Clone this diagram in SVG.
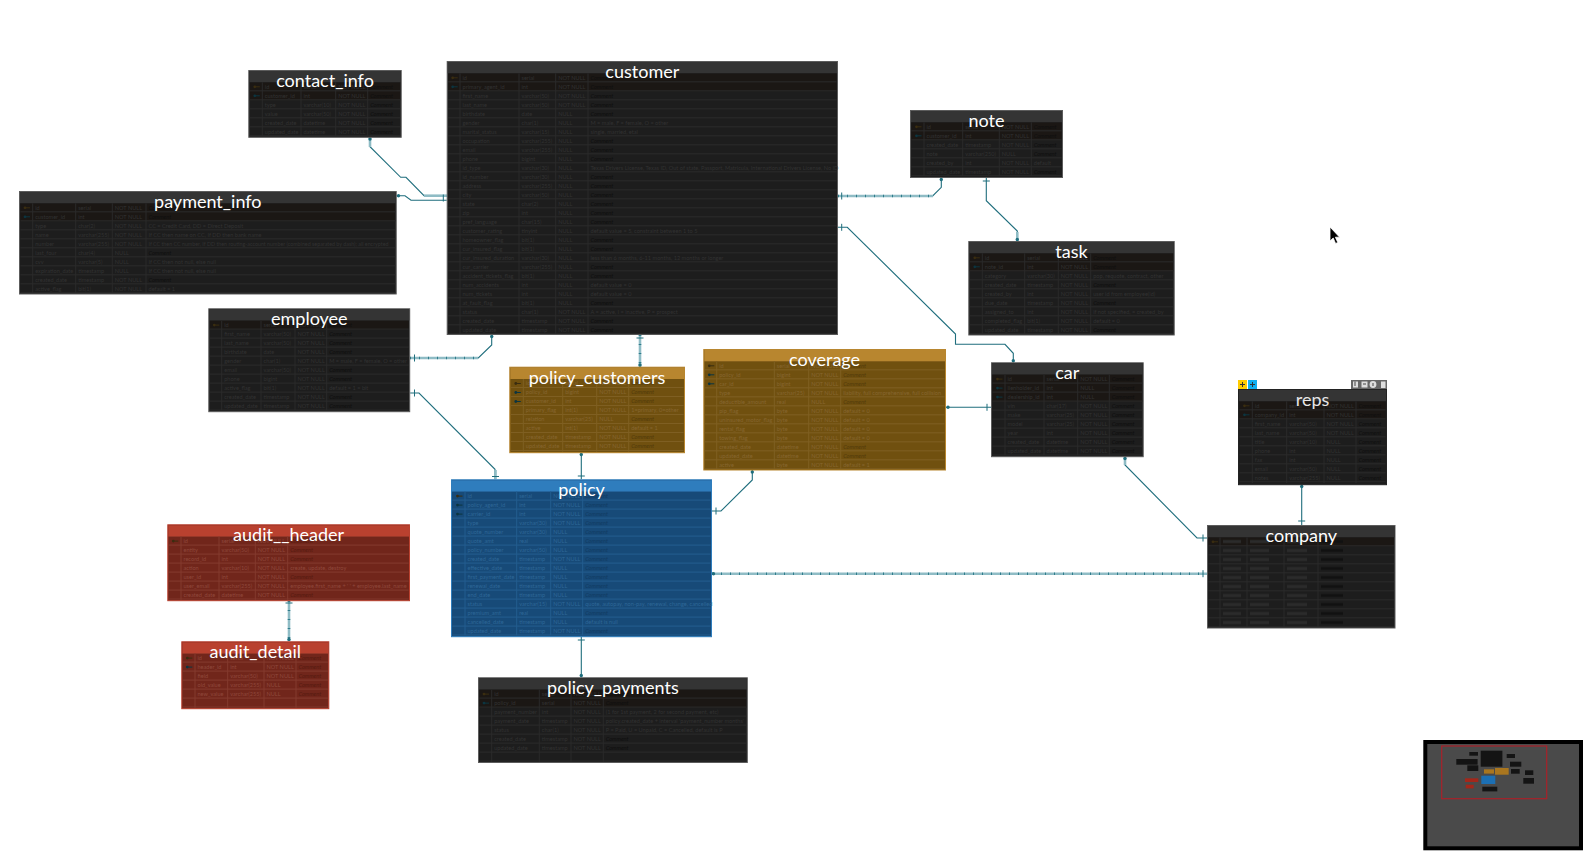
<svg xmlns="http://www.w3.org/2000/svg" width="1592" height="863" viewBox="0 0 1592 863">
<style>
text{font-family:Lato,"Open Sans","Liberation Sans",sans-serif}
.ti{font-size:18px;fill:#fff;text-anchor:middle}
.r{font-size:5.6px}
.k{font-style:italic}
.dark .bd{fill:#1d1d1d;stroke:#5c5c5c;stroke-width:1}
.dark .hd{fill:#343434}
.dark .v{stroke:#2a2a2a}
.dark .r{fill:#323232}
.dark .k{fill:#0e0e0e}
.dark .pk{fill:#1b1714}
.or .bd{fill:#70500f;stroke:#b8862f;stroke-width:1}
.or .hd{fill:#b8862f}
.or .v{stroke:#7f5f22}
.or .r{fill:#866630}
.or .k{fill:#513a0a}
.bl .bd{fill:#174a78;stroke:#2f7dbd;stroke-width:1}
.bl .hd{fill:#2f7dbd}
.bl .v{stroke:#235d8f}
.bl .r{fill:#2e6797}
.bl .k{fill:#113a62}
.re .bd{fill:#71261b;stroke:#b9412f;stroke-width:1}
.re .hd{fill:#b9412f}
.re .v{stroke:#843a2e}
.re .r{fill:#8f483b}
.re .k{fill:#551a10}
.v{fill:none;stroke-width:1}
.ln{fill:none;stroke:#1f6e7d;stroke-width:1.1}
.lt{fill:none;stroke:#8fbcc5;stroke-width:2.6}
.dt{fill:none;stroke:#2f7c8b;stroke-width:2.6;stroke-dasharray:1 8}
.e{fill:#1f6e7d}
.tk{stroke:#1f6e7d;stroke-width:1;fill:none}
.kp{fill:#3a2d10}
.kf{fill:#0c3540}
.mini{fill:#141414}
.ico{fill:#ddd}
</style>
<defs>
<pattern id="gd" width="40" height="9" patternUnits="userSpaceOnUse" y="12.3"><path d="M0 8.5H40" stroke="#2a2a2a" stroke-width="1"/></pattern>
<pattern id="go" width="40" height="9" patternUnits="userSpaceOnUse" y="12.3"><path d="M0 8.5H40" stroke="#7f5f22" stroke-width="1"/></pattern>
<pattern id="gb" width="40" height="9" patternUnits="userSpaceOnUse" y="12.3"><path d="M0 8.5H40" stroke="#235d8f" stroke-width="1"/></pattern>
<pattern id="gr" width="40" height="9" patternUnits="userSpaceOnUse" y="12.3"><path d="M0 8.5H40" stroke="#843a2e" stroke-width="1"/></pattern>
<pattern id="cb" width="188" height="9" patternUnits="userSpaceOnUse" y="12.3"><path d="M16 4.2H34M43 4.2H62M80 4.2H100" stroke="#2b2b2b" stroke-width="3"/><path d="M114 4.2H136" stroke="#111" stroke-width="3"/></pattern>
<g id="key"><circle cx="1.5" cy="0" r="1.4"/><rect x="2.5" y="-.5" width="4" height="1"/></g>
<circle id="o" r="1.7" class="e"/>
<path id="tv" d="M0-3.5V3.5" class="tk"/>
<path id="th" d="M-3.5 0H3.5" class="tk"/>
</defs>
<rect width="1592" height="863" fill="#fff"/>

<g id="connectors">
<path class="ln" d="M370 137.5V146.7L400.7 177.3H406L424 195.7H446.7"/>
<path class="ln" d="M396.7 195.7H405L411 200.3H446.7"/>
<path class="ln" d="M838 196H932.7L941.3 187.3V177.7"/>
<path class="ln" d="M986.3 177.7V200.7L1017.3 231V241"/>
<path class="ln" d="M838 227.3H847.3L955.5 334V344.3H1005L1013.3 353.3V362.3"/>
<path class="ln" d="M410.2 358H478.3L491.7 345V334.5"/>
<path class="ln" d="M410.2 393H419L495 469.3V479.3"/>
<path class="ln" d="M581.3 452.7V479.3"/>
<path class="ln" d="M752.3 470V480L721 511H712"/>
<path class="ln" d="M946 407.3H991"/>
<path class="ln" d="M1125 456.7V465L1197 538H1207"/>
<path class="ln" d="M1301.7 484.7V525"/>
<path class="ln" d="M581.3 636.7V677.3"/>
<path class="lt" d="M370 138V147"/><path class="lt" d="M424 195.7H447"/><path class="lt" d="M838 196H933"/><path class="lt" d="M640 335V367"/><path class="lt" d="M712 573.7H1207"/><path class="lt" d="M289 601V641"/><path class="lt" d="M410 358H478"/><path class="lt" d="M495.5 470V479"/><path class="lt" d="M1017.3 232V241"/><path class="lt" d="M1125 457V465"/>
<path class="dt" d="M838 196H933"/><path class="dt" d="M712 573.7H1207"/><path class="dt" d="M289 601V641"/><path class="dt" d="M410 358H478"/><path class="dt" d="M640 335V367"/>
<use href="#o" x="370" y="139"/><use href="#tv" x="443.3" y="198"/><use href="#o" x="398.5" y="195.7"/><use href="#tv" x="841.7" y="196"/><use href="#o" x="941.3" y="179.5"/><use href="#th" x="986.3" y="181"/><use href="#o" x="1017.3" y="239.5"/><use href="#tv" x="841.7" y="227.3"/><use href="#o" x="1013.3" y="360.8"/><use href="#tv" x="414.5" y="358"/><use href="#o" x="491.7" y="336.5"/><use href="#tv" x="414.5" y="393"/><use href="#th" x="495.5" y="476.5"/><use href="#th" x="640" y="338"/><use href="#o" x="640" y="365"/><use href="#o" x="581.3" y="454.5"/><use href="#th" x="581.3" y="476"/><use href="#o" x="752.3" y="472"/><use href="#tv" x="716" y="511"/><use href="#o" x="948" y="407.3"/><use href="#tv" x="987" y="407.3"/><use href="#o" x="1125" y="458.5"/><use href="#tv" x="1203" y="538"/><use href="#o" x="1301.7" y="486.5"/><use href="#th" x="1301.7" y="521"/><use href="#o" x="713.5" y="573.7"/><use href="#tv" x="1203" y="573.7"/><use href="#th" x="581.3" y="640"/><use href="#o" x="581.3" y="675.5"/><use href="#th" x="289" y="603"/><use href="#o" x="289" y="639.5"/>
</g>

<g id="contact_info" class="dark" transform="translate(248.3 70)">
<rect class="bd" x=".5" y=".5" width="152.4" height="66.8"/><rect class="hd" x="1" y="1" width="151.4" height="11.3"/>
<rect class="pk" x="1.5" y="12.3" width="150.4" height="18"/><rect x="1.5" y="12.3" width="150.4" height="54" fill="url(#gd)"/>
<path class="v" d="M14 12.3V66M52.7 12.3V66M87.4 12.3V66M119.4 12.3V66"/>
<use class="kp" href="#key" x="5" y="16.8"/><use class="kf" href="#key" x="5" y="25.8"/>
<text class="r" y="18.8"><tspan x="16.5">id</tspan><tspan x="55.2">serial</tspan><tspan x="89.9">NOT NULL</tspan><tspan class="k" x="121.9">Comment</tspan></text>
<text class="r" y="27.8"><tspan x="16.5">customer_id</tspan><tspan x="55.2">int</tspan><tspan x="89.9">NOT NULL</tspan><tspan class="k" x="121.9">Comment</tspan></text>
<text class="r" y="36.8"><tspan x="16.5">type</tspan><tspan x="55.2">varchar(10)</tspan><tspan x="89.9">NOT NULL</tspan><tspan class="k" x="121.9">Comment</tspan></text>
<text class="r" y="45.8"><tspan x="16.5">value</tspan><tspan x="55.2">varchar(50)</tspan><tspan x="89.9">NOT NULL</tspan><tspan class="k" x="121.9">Comment</tspan></text>
<text class="r" y="54.8"><tspan x="16.5">created_date</tspan><tspan x="55.2">datetime</tspan><tspan x="89.9">NOT NULL</tspan><tspan class="k" x="121.9">Comment</tspan></text>
<text class="r" y="63.8"><tspan x="16.5">updated_date</tspan><tspan x="55.2">datetime</tspan><tspan x="89.9">NOT NULL</tspan><tspan class="k" x="121.9">Comment</tspan></text>
<text class="ti" x="76.7" y="17">contact_info</text>
</g>

<g id="customer" class="dark" transform="translate(446.7 61)">
<rect class="bd" x=".5" y=".5" width="390.3" height="273"/><rect class="hd" x="1" y="1" width="389.3" height="11.3"/>
<rect class="pk" x="1.5" y="12.3" width="388.3" height="18"/><rect x="1.5" y="12.3" width="388.3" height="261" fill="url(#gd)"/>
<path class="v" d="M13.3 12.3V273M72.3 12.3V273M109 12.3V273M141.3 12.3V273"/>
<use class="kp" href="#key" x="4.5" y="16.8"/><use class="kf" href="#key" x="4.5" y="25.8"/>
<g>
<text class="r" y="18.8"><tspan x="15.8">id</tspan><tspan x="74.8">serial</tspan><tspan x="111.5">NOT NULL</tspan><tspan class="k" x="143.8">Comment</tspan></text>
<text class="r" y="27.8"><tspan x="15.8">primary_agent_id</tspan><tspan x="74.8">int</tspan><tspan x="111.5">NOT NULL</tspan><tspan class="k" x="143.8">Comment</tspan></text>
<text class="r" y="36.8"><tspan x="15.8">first_name</tspan><tspan x="74.8">varchar(50)</tspan><tspan x="111.5">NOT NULL</tspan><tspan class="k" x="143.8">Comment</tspan></text>
<text class="r" y="45.8"><tspan x="15.8">last_name</tspan><tspan x="74.8">varchar(50)</tspan><tspan x="111.5">NOT NULL</tspan><tspan class="k" x="143.8">Comment</tspan></text>
<text class="r" y="54.8"><tspan x="15.8">birthdate</tspan><tspan x="74.8">date</tspan><tspan x="111.5">NULL</tspan><tspan class="k" x="143.8">Comment</tspan></text>
<text class="r" y="63.8"><tspan x="15.8">gender</tspan><tspan x="74.8">char(1)</tspan><tspan x="111.5">NULL</tspan><tspan x="143.8">M = male, F = female, O = other</tspan></text>
<text class="r" y="72.8"><tspan x="15.8">marital_status</tspan><tspan x="74.8">varchar(15)</tspan><tspan x="111.5">NULL</tspan><tspan x="143.8">single, married, etal</tspan></text>
<text class="r" y="81.8"><tspan x="15.8">occupation</tspan><tspan x="74.8">varchar(255)</tspan><tspan x="111.5">NULL</tspan><tspan class="k" x="143.8">Comment</tspan></text>
<text class="r" y="90.8"><tspan x="15.8">email</tspan><tspan x="74.8">varchar(255)</tspan><tspan x="111.5">NULL</tspan><tspan class="k" x="143.8">Comment</tspan></text>
<text class="r" y="99.8"><tspan x="15.8">phone</tspan><tspan x="74.8">bigint</tspan><tspan x="111.5">NULL</tspan><tspan class="k" x="143.8">Comment</tspan></text>
<text class="r" y="108.8"><tspan x="15.8">id_type</tspan><tspan x="74.8">varchar(30)</tspan><tspan x="111.5">NULL</tspan><tspan x="143.8">Texas Drivers License, Texas ID, Out of state, Passport, Matricula, International Drivers License, No ID</tspan></text>
<text class="r" y="117.8"><tspan x="15.8">id_number</tspan><tspan x="74.8">varchar(30)</tspan><tspan x="111.5">NULL</tspan><tspan class="k" x="143.8">Comment</tspan></text>
<text class="r" y="126.8"><tspan x="15.8">address</tspan><tspan x="74.8">varchar(255)</tspan><tspan x="111.5">NULL</tspan><tspan class="k" x="143.8">Comment</tspan></text>
<text class="r" y="135.8"><tspan x="15.8">city</tspan><tspan x="74.8">varchar(50)</tspan><tspan x="111.5">NULL</tspan><tspan class="k" x="143.8">Comment</tspan></text>
<text class="r" y="144.8"><tspan x="15.8">state</tspan><tspan x="74.8">char(2)</tspan><tspan x="111.5">NULL</tspan><tspan class="k" x="143.8">Comment</tspan></text>
<text class="r" y="153.8"><tspan x="15.8">zip</tspan><tspan x="74.8">int</tspan><tspan x="111.5">NULL</tspan><tspan class="k" x="143.8">Comment</tspan></text>
<text class="r" y="162.8"><tspan x="15.8">pref_language</tspan><tspan x="74.8">char(15)</tspan><tspan x="111.5">NULL</tspan><tspan class="k" x="143.8">Comment</tspan></text>
<text class="r" y="171.8"><tspan x="15.8">customer_rating</tspan><tspan x="74.8">tinyint</tspan><tspan x="111.5">NULL</tspan><tspan x="143.8">default value = 5, constraint between 1 to 5</tspan></text>
<text class="r" y="180.8"><tspan x="15.8">homeowner_flag</tspan><tspan x="74.8">bit(1)</tspan><tspan x="111.5">NULL</tspan><tspan class="k" x="143.8">Comment</tspan></text>
<text class="r" y="189.8"><tspan x="15.8">cur_insured_flag</tspan><tspan x="74.8">bit(1)</tspan><tspan x="111.5">NULL</tspan><tspan class="k" x="143.8">Comment</tspan></text>
<text class="r" y="198.8"><tspan x="15.8">cur_insured_duration</tspan><tspan x="74.8">varchar(30)</tspan><tspan x="111.5">NULL</tspan><tspan x="143.8">less than 6 months, 6-11 months, 12 months or longer</tspan></text>
<text class="r" y="207.8"><tspan x="15.8">cur_carrier</tspan><tspan x="74.8">varchar(255)</tspan><tspan x="111.5">NULL</tspan><tspan class="k" x="143.8">Comment</tspan></text>
<text class="r" y="216.8"><tspan x="15.8">accident_tickets_flag</tspan><tspan x="74.8">bit(1)</tspan><tspan x="111.5">NULL</tspan><tspan class="k" x="143.8">Comment</tspan></text>
<text class="r" y="225.8"><tspan x="15.8">num_accidents</tspan><tspan x="74.8">int</tspan><tspan x="111.5">NULL</tspan><tspan x="143.8">default value = 0</tspan></text>
<text class="r" y="234.8"><tspan x="15.8">num_tickets</tspan><tspan x="74.8">int</tspan><tspan x="111.5">NULL</tspan><tspan x="143.8">default value = 0</tspan></text>
<text class="r" y="243.8"><tspan x="15.8">at_fault_flag</tspan><tspan x="74.8">bit(1)</tspan><tspan x="111.5">NULL</tspan><tspan class="k" x="143.8">Comment</tspan></text>
<text class="r" y="252.8"><tspan x="15.8">status</tspan><tspan x="74.8">char(1)</tspan><tspan x="111.5">NOT NULL</tspan><tspan x="143.8">A = active, I = inactive, P = prospect</tspan></text>
<text class="r" y="261.8"><tspan x="15.8">created_date</tspan><tspan x="74.8">timestamp</tspan><tspan x="111.5">NOT NULL</tspan><tspan class="k" x="143.8">Comment</tspan></text>
<text class="r" y="270.8"><tspan x="15.8">updated_date</tspan><tspan x="74.8">timestamp</tspan><tspan x="111.5">NOT NULL</tspan><tspan class="k" x="143.8">Comment</tspan></text>
</g>
<text class="ti" x="195.6" y="17">customer</text>
</g>

<g id="note" class="dark" transform="translate(910 110)">
<rect class="bd" x=".5" y=".5" width="152" height="67"/><rect class="hd" x="1" y="1" width="151" height="11.3"/>
<rect class="pk" x="1.5" y="12.3" width="150" height="18"/><rect x="1.5" y="12.3" width="150" height="54" fill="url(#gd)"/>
<path class="v" d="M14 12.3V66M52.7 12.3V66M89.3 12.3V66M121.3 12.3V66"/>
<use class="kp" href="#key" x="5" y="16.8"/><use class="kf" href="#key" x="5" y="25.8"/>
<text class="r" y="18.8"><tspan x="16.5">id</tspan><tspan x="55.2">serial</tspan><tspan x="91.8">NOT NULL</tspan><tspan class="k" x="123.8">Comment</tspan></text>
<text class="r" y="27.8"><tspan x="16.5">customer_id</tspan><tspan x="55.2">int</tspan><tspan x="91.8">NOT NULL</tspan><tspan class="k" x="123.8">Comment</tspan></text>
<text class="r" y="36.8"><tspan x="16.5">created_date</tspan><tspan x="55.2">timestamp</tspan><tspan x="91.8">NOT NULL</tspan><tspan class="k" x="123.8">Comment</tspan></text>
<text class="r" y="45.8"><tspan x="16.5">note</tspan><tspan x="55.2">varchar(250)</tspan><tspan x="91.8">NULL</tspan><tspan class="k" x="123.8">Comment</tspan></text>
<text class="r" y="54.8"><tspan x="16.5">created_by</tspan><tspan x="55.2">int</tspan><tspan x="91.8">NOT NULL</tspan><tspan x="123.8">default</tspan></text>
<text class="r" y="63.8"><tspan x="16.5">updated_date</tspan><tspan x="55.2">timestamp</tspan><tspan x="91.8">NOT NULL</tspan><tspan class="k" x="123.8">Comment</tspan></text>
<text class="ti" x="76.5" y="17">note</text>
</g>

<g id="task" class="dark" transform="translate(968.3 241)">
<rect class="bd" x=".5" y=".5" width="205.4" height="93.5"/><rect class="hd" x="1" y="1" width="204.4" height="11.3"/>
<rect class="pk" x="1.5" y="12.3" width="203.4" height="18"/><rect x="1.5" y="12.3" width="203.4" height="81" fill="url(#gd)"/>
<path class="v" d="M14 12.3V93M56.4 12.3V93M90 12.3V93M122.4 12.3V93"/>
<use class="kp" href="#key" x="5" y="16.8"/><use class="kf" href="#key" x="5" y="25.8"/>
<text class="r" y="18.8"><tspan x="16.5">id</tspan><tspan x="58.9">serial</tspan><tspan x="92.5">NOT NULL</tspan><tspan class="k" x="124.9">Comment</tspan></text>
<text class="r" y="27.8"><tspan x="16.5">note_id</tspan><tspan x="58.9">int</tspan><tspan x="92.5">NOT NULL</tspan><tspan class="k" x="124.9">Comment</tspan></text>
<text class="r" y="36.8"><tspan x="16.5">category</tspan><tspan x="58.9">varchar(30)</tspan><tspan x="92.5">NOT NULL</tspan><tspan x="124.9">pop, requote, contract, other</tspan></text>
<text class="r" y="45.8"><tspan x="16.5">created_date</tspan><tspan x="58.9">timestamp</tspan><tspan x="92.5">NOT NULL</tspan><tspan class="k" x="124.9">Comment</tspan></text>
<text class="r" y="54.8"><tspan x="16.5">created_by</tspan><tspan x="58.9">int</tspan><tspan x="92.5">NOT NULL</tspan><tspan x="124.9">user id from employee(id)</tspan></text>
<text class="r" y="63.8"><tspan x="16.5">due_date</tspan><tspan x="58.9">timestamp</tspan><tspan x="92.5">NOT NULL</tspan><tspan class="k" x="124.9">Comment</tspan></text>
<text class="r" y="72.8"><tspan x="16.5">assigned_to</tspan><tspan x="58.9">int</tspan><tspan x="92.5">NOT NULL</tspan><tspan x="124.9">if not specified, = created_by</tspan></text>
<text class="r" y="81.8"><tspan x="16.5">completed_flag</tspan><tspan x="58.9">bit(1)</tspan><tspan x="92.5">NOT NULL</tspan><tspan x="124.9">default = 0</tspan></text>
<text class="r" y="90.8"><tspan x="16.5">updated_date</tspan><tspan x="58.9">timestamp</tspan><tspan x="92.5">NOT NULL</tspan><tspan class="k" x="124.9">Comment</tspan></text>
<text class="ti" x="103.2" y="17">task</text>
</g>

<g id="payment_info" class="dark" transform="translate(19 191)">
<rect class="bd" x=".5" y=".5" width="376.7" height="102.5"/><rect class="hd" x="1" y="1" width="375.7" height="11.3"/>
<rect class="pk" x="1.5" y="12.3" width="374.7" height="18"/><rect x="1.5" y="12.3" width="374.7" height="90" fill="url(#gd)"/>
<path class="v" d="M13.7 12.3V102M56.7 12.3V102M93.3 12.3V102M127 12.3V102"/>
<use class="kp" href="#key" x="4.5" y="16.8"/><use class="kf" href="#key" x="4.5" y="25.8"/>
<text class="r" y="18.8"><tspan x="16.2">id</tspan><tspan x="59.2">serial</tspan><tspan x="95.8">NOT NULL</tspan><tspan class="k" x="129.5">Comment</tspan></text>
<text class="r" y="27.8"><tspan x="16.2">customer_id</tspan><tspan x="59.2">int</tspan><tspan x="95.8">NOT NULL</tspan><tspan class="k" x="129.5">Comment</tspan></text>
<text class="r" y="36.8"><tspan x="16.2">type</tspan><tspan x="59.2">char(2)</tspan><tspan x="95.8">NOT NULL</tspan><tspan x="129.5">CC = Credit Card, DD = Direct Deposit</tspan></text>
<text class="r" y="45.8"><tspan x="16.2">name</tspan><tspan x="59.2">varchar(255)</tspan><tspan x="95.8">NOT NULL</tspan><tspan x="129.5">If CC then name on CC, If DD then bank name</tspan></text>
<text class="r" y="54.8"><tspan x="16.2">number</tspan><tspan x="59.2">varchar(255)</tspan><tspan x="95.8">NOT NULL</tspan><tspan x="129.5" textLength="240" lengthAdjust="spacingAndGlyphs">If CC then CC number, If DD then routing-account number (combined separated by dash); all encrypted</tspan></text>
<text class="r" y="63.8"><tspan x="16.2">last_four</tspan><tspan x="59.2">char(4)</tspan><tspan x="95.8">NULL</tspan><tspan class="k" x="129.5">Comment</tspan></text>
<text class="r" y="72.8"><tspan x="16.2">cvv</tspan><tspan x="59.2">varchar(5)</tspan><tspan x="95.8">NULL</tspan><tspan x="129.5">If CC then not null, else null</tspan></text>
<text class="r" y="81.8"><tspan x="16.2">expiration_date</tspan><tspan x="59.2">timestamp</tspan><tspan x="95.8">NULL</tspan><tspan x="129.5">If CC then not null, else null</tspan></text>
<text class="r" y="90.8"><tspan x="16.2">created_date</tspan><tspan x="59.2">timestamp</tspan><tspan x="95.8">NOT NULL</tspan><tspan class="k" x="129.5">Comment</tspan></text>
<text class="r" y="99.8"><tspan x="16.2">active_flag</tspan><tspan x="59.2">bit(1)</tspan><tspan x="95.8">NOT NULL</tspan><tspan x="129.5">default = 1</tspan></text>
<text class="ti" x="188.8" y="17">payment_info</text>
</g>

<g id="employee" class="dark" transform="translate(208.3 308.3)">
<rect class="bd" x=".5" y=".5" width="200.9" height="102.9"/><rect class="hd" x="1" y="1" width="199.9" height="11.3"/>
<rect class="pk" x="1.5" y="12.3" width="198.9" height="9"/><rect x="1.5" y="12.3" width="198.9" height="90" fill="url(#gd)"/>
<path class="v" d="M13.4 12.3V102M52.7 12.3V102M86.7 12.3V102M118.4 12.3V102"/>
<use class="kp" href="#key" x="4.5" y="16.8"/>
<text class="r" y="18.8"><tspan x="15.9">id</tspan><tspan x="55.2">serial</tspan><tspan x="89.2">NOT NULL</tspan><tspan class="k" x="120.9">Comment</tspan></text>
<text class="r" y="27.8"><tspan x="15.9">first_name</tspan><tspan x="55.2">varchar(50)</tspan><tspan x="89.2">NOT NULL</tspan><tspan class="k" x="120.9">Comment</tspan></text>
<text class="r" y="36.8"><tspan x="15.9">last_name</tspan><tspan x="55.2">varchar(50)</tspan><tspan x="89.2">NOT NULL</tspan><tspan class="k" x="120.9">Comment</tspan></text>
<text class="r" y="45.8"><tspan x="15.9">birthdate</tspan><tspan x="55.2">date</tspan><tspan x="89.2">NOT NULL</tspan><tspan class="k" x="120.9">Comment</tspan></text>
<text class="r" y="54.8"><tspan x="15.9">gender</tspan><tspan x="55.2">char(1)</tspan><tspan x="89.2">NOT NULL</tspan><tspan x="120.9">M = male, F = female, O = other</tspan></text>
<text class="r" y="63.8"><tspan x="15.9">email</tspan><tspan x="55.2">varchar(50)</tspan><tspan x="89.2">NOT NULL</tspan><tspan class="k" x="120.9">Comment</tspan></text>
<text class="r" y="72.8"><tspan x="15.9">phone</tspan><tspan x="55.2">bigint</tspan><tspan x="89.2">NOT NULL</tspan><tspan class="k" x="120.9">Comment</tspan></text>
<text class="r" y="81.8"><tspan x="15.9">active_flag</tspan><tspan x="55.2">bit(1)</tspan><tspan x="89.2">NOT NULL</tspan><tspan x="120.9">default = 1 = bit</tspan></text>
<text class="r" y="90.8"><tspan x="15.9">created_date</tspan><tspan x="55.2">timestamp</tspan><tspan x="89.2">NOT NULL</tspan><tspan class="k" x="120.9">Comment</tspan></text>
<text class="r" y="99.8"><tspan x="15.9">updated_date</tspan><tspan x="55.2">timestamp</tspan><tspan x="89.2">NOT NULL</tspan><tspan class="k" x="120.9">Comment</tspan></text>
<text class="ti" x="101" y="17">employee</text>
</g>

<g id="policy_customers" class="or" transform="translate(509.3 366.7)">
<rect class="bd" x=".5" y=".5" width="174.7" height="85.5"/><rect class="hd" x="1" y="1" width="173.7" height="11.3"/>
<rect x="1.5" y="12.3" width="172.7" height="72" fill="url(#go)"/>
<path class="v" d="M14 12.3V85M53.4 12.3V85M87.4 12.3V85M119.4 12.3V85"/>
<use class="kp" href="#key" x="5" y="16.8"/><use class="kf" href="#key" x="5" y="25.8"/><use class="kf" href="#key" x="5" y="34.8"/>
<text class="r" y="18.8"><tspan x="16.5">id</tspan><tspan x="55.9">serial</tspan><tspan x="89.9">NOT NULL</tspan><tspan class="k" x="121.9">Comment</tspan></text>
<text class="r" y="27.8"><tspan x="16.5">policy_id</tspan><tspan x="55.9">bigint</tspan><tspan x="89.9">NOT NULL</tspan><tspan class="k" x="121.9">Comment</tspan></text>
<text class="r" y="36.8"><tspan x="16.5">customer_id</tspan><tspan x="55.9">int</tspan><tspan x="89.9">NOT NULL</tspan><tspan class="k" x="121.9">Comment</tspan></text>
<text class="r" y="45.8"><tspan x="16.5">primary_flag</tspan><tspan x="55.9">int(1)</tspan><tspan x="89.9">NOT NULL</tspan><tspan x="121.9">1=primary, 0=other</tspan></text>
<text class="r" y="54.8"><tspan x="16.5">relation</tspan><tspan x="55.9">varchar(25)</tspan><tspan x="89.9">NULL</tspan><tspan class="k" x="121.9">Comment</tspan></text>
<text class="r" y="63.8"><tspan x="16.5">active</tspan><tspan x="55.9">int(1)</tspan><tspan x="89.9">NOT NULL</tspan><tspan x="121.9">default = 1</tspan></text>
<text class="r" y="72.8"><tspan x="16.5">created_date</tspan><tspan x="55.9">timestamp</tspan><tspan x="89.9">NOT NULL</tspan><tspan class="k" x="121.9">Comment</tspan></text>
<text class="r" y="81.8"><tspan x="16.5">updated_date</tspan><tspan x="55.9">timestamp</tspan><tspan x="89.9">NOT NULL</tspan><tspan class="k" x="121.9">Comment</tspan></text>
<text class="ti" x="87.8" y="17.5">policy_customers</text>
</g>

<g id="coverage" class="or" transform="translate(703.3 349)">
<rect class="bd" x=".5" y=".5" width="241.7" height="120.5"/><rect class="hd" x="1" y="1" width="240.7" height="11.3"/>
<rect x="1.5" y="12.3" width="239.7" height="108" fill="url(#go)"/>
<path class="v" d="M13.4 12.3V120M71 12.3V120M105.4 12.3V120M137.4 12.3V120"/>
<use class="kp" href="#key" x="4.5" y="16.8"/><use class="kf" href="#key" x="4.5" y="25.8"/><use class="kf" href="#key" x="4.5" y="34.8"/>
<text class="r" y="18.8"><tspan x="15.9">id</tspan><tspan x="73.5">serial</tspan><tspan x="107.9">NOT NULL</tspan><tspan class="k" x="139.9">Comment</tspan></text>
<text class="r" y="27.8"><tspan x="15.9">policy_id</tspan><tspan x="73.5">bigint</tspan><tspan x="107.9">NOT NULL</tspan><tspan class="k" x="139.9">Comment</tspan></text>
<text class="r" y="36.8"><tspan x="15.9">car_id</tspan><tspan x="73.5">bigint</tspan><tspan x="107.9">NOT NULL</tspan><tspan class="k" x="139.9">Comment</tspan></text>
<text class="r" y="45.8"><tspan x="15.9">type</tspan><tspan x="73.5">varchar(25)</tspan><tspan x="107.9">NOT NULL</tspan><tspan x="139.9">liability, full comprehensive, full collision</tspan></text>
<text class="r" y="54.8"><tspan x="15.9">deductible_amount</tspan><tspan x="73.5">real</tspan><tspan x="107.9">NULL</tspan><tspan class="k" x="139.9">Comment</tspan></text>
<text class="r" y="63.8"><tspan x="15.9">pip_flag</tspan><tspan x="73.5">byte</tspan><tspan x="107.9">NOT NULL</tspan><tspan x="139.9">default = 0</tspan></text>
<text class="r" y="72.8"><tspan x="15.9">uninsured_motor_flag</tspan><tspan x="73.5">byte</tspan><tspan x="107.9">NOT NULL</tspan><tspan x="139.9">default = 0</tspan></text>
<text class="r" y="81.8"><tspan x="15.9">rental_flag</tspan><tspan x="73.5">byte</tspan><tspan x="107.9">NOT NULL</tspan><tspan x="139.9">default = 0</tspan></text>
<text class="r" y="90.8"><tspan x="15.9">towing_flag</tspan><tspan x="73.5">byte</tspan><tspan x="107.9">NOT NULL</tspan><tspan x="139.9">default = 0</tspan></text>
<text class="r" y="99.8"><tspan x="15.9">created_date</tspan><tspan x="73.5">datetime</tspan><tspan x="107.9">NOT NULL</tspan><tspan class="k" x="139.9">Comment</tspan></text>
<text class="r" y="108.8"><tspan x="15.9">updated_date</tspan><tspan x="73.5">datetime</tspan><tspan x="107.9">NOT NULL</tspan><tspan class="k" x="139.9">Comment</tspan></text>
<text class="r" y="117.8"><tspan x="15.9">active</tspan><tspan x="73.5">byte</tspan><tspan x="107.9">NOT NULL</tspan><tspan x="139.9">default = 1</tspan></text>
<text class="ti" x="121.3" y="17">coverage</text>
</g>

<g id="car" class="dark" transform="translate(991 362.3)">
<rect class="bd" x=".5" y=".5" width="151.7" height="93.9"/><rect class="hd" x="1" y="1" width="150.7" height="11.3"/>
<rect class="pk" x="1.5" y="12.3" width="149.7" height="27"/><rect x="1.5" y="12.3" width="149.7" height="81" fill="url(#gd)"/>
<path class="v" d="M14 12.3V93M53 12.3V93M86.7 12.3V93M118.3 12.3V93"/>
<use class="kp" href="#key" x="5" y="16.8"/><use class="kf" href="#key" x="5" y="25.8"/><use class="kf" href="#key" x="5" y="34.8"/>
<text class="r" y="18.8"><tspan x="16.5">id</tspan><tspan x="55.5">serial</tspan><tspan x="89.2">NOT NULL</tspan><tspan class="k" x="120.8">Comment</tspan></text>
<text class="r" y="27.8"><tspan x="16.5">lienholder_id</tspan><tspan x="55.5">int</tspan><tspan x="89.2">NULL</tspan><tspan class="k" x="120.8">Comment</tspan></text>
<text class="r" y="36.8"><tspan x="16.5">dealership_id</tspan><tspan x="55.5">int</tspan><tspan x="89.2">NULL</tspan><tspan class="k" x="120.8">Comment</tspan></text>
<text class="r" y="45.8"><tspan x="16.5">vin</tspan><tspan x="55.5">char(17)</tspan><tspan x="89.2">NOT NULL</tspan><tspan class="k" x="120.8">Comment</tspan></text>
<text class="r" y="54.8"><tspan x="16.5">make</tspan><tspan x="55.5">varchar(25)</tspan><tspan x="89.2">NOT NULL</tspan><tspan class="k" x="120.8">Comment</tspan></text>
<text class="r" y="63.8"><tspan x="16.5">model</tspan><tspan x="55.5">varchar(25)</tspan><tspan x="89.2">NOT NULL</tspan><tspan class="k" x="120.8">Comment</tspan></text>
<text class="r" y="72.8"><tspan x="16.5">year</tspan><tspan x="55.5">int</tspan><tspan x="89.2">NOT NULL</tspan><tspan class="k" x="120.8">Comment</tspan></text>
<text class="r" y="81.8"><tspan x="16.5">created_date</tspan><tspan x="55.5">datetime</tspan><tspan x="89.2">NOT NULL</tspan><tspan class="k" x="120.8">Comment</tspan></text>
<text class="r" y="90.8"><tspan x="16.5">updated_date</tspan><tspan x="55.5">datetime</tspan><tspan x="89.2">NOT NULL</tspan><tspan class="k" x="120.8">Comment</tspan></text>
<text class="ti" x="76.3" y="17">car</text>
</g>

<g id="policy" class="bl" transform="translate(451 479.3)">
<rect class="bd" x=".5" y=".5" width="260" height="156.9"/><rect class="hd" x="1" y="1" width="259" height="11.3"/>
<rect x="1.5" y="12.3" width="258" height="144" fill="url(#gb)"/>
<path class="v" d="M14 12.3V156M65.7 12.3V156M99.7 12.3V156M131.7 12.3V156"/>
<use class="kp" href="#key" x="5" y="16.8"/><use class="kf" href="#key" x="5" y="25.8"/><use class="kf" href="#key" x="5" y="34.8"/>
<text class="r" y="18.8"><tspan x="16.5">id</tspan><tspan x="68.2">serial</tspan><tspan x="102.2">NOT NULL</tspan><tspan class="k" x="134.2">Comment</tspan></text>
<text class="r" y="27.8"><tspan x="16.5">policy_agent_id</tspan><tspan x="68.2">int</tspan><tspan x="102.2">NOT NULL</tspan><tspan class="k" x="134.2">Comment</tspan></text>
<text class="r" y="36.8"><tspan x="16.5">carrier_id</tspan><tspan x="68.2">int</tspan><tspan x="102.2">NOT NULL</tspan><tspan class="k" x="134.2">Comment</tspan></text>
<text class="r" y="45.8"><tspan x="16.5">type</tspan><tspan x="68.2">varchar(30)</tspan><tspan x="102.2">NOT NULL</tspan><tspan class="k" x="134.2">Comment</tspan></text>
<text class="r" y="54.8"><tspan x="16.5">quote_number</tspan><tspan x="68.2">varchar(30)</tspan><tspan x="102.2">NULL</tspan><tspan class="k" x="134.2">Comment</tspan></text>
<text class="r" y="63.8"><tspan x="16.5">quote_amt</tspan><tspan x="68.2">real</tspan><tspan x="102.2">NULL</tspan><tspan class="k" x="134.2">Comment</tspan></text>
<text class="r" y="72.8"><tspan x="16.5">policy_number</tspan><tspan x="68.2">varchar(50)</tspan><tspan x="102.2">NULL</tspan><tspan class="k" x="134.2">Comment</tspan></text>
<text class="r" y="81.8"><tspan x="16.5">created_date</tspan><tspan x="68.2">timestamp</tspan><tspan x="102.2">NOT NULL</tspan><tspan class="k" x="134.2">Comment</tspan></text>
<text class="r" y="90.8"><tspan x="16.5">effective_date</tspan><tspan x="68.2">timestamp</tspan><tspan x="102.2">NULL</tspan><tspan class="k" x="134.2">Comment</tspan></text>
<text class="r" y="99.8"><tspan x="16.5">first_payment_date</tspan><tspan x="68.2">timestamp</tspan><tspan x="102.2">NULL</tspan><tspan class="k" x="134.2">Comment</tspan></text>
<text class="r" y="108.8"><tspan x="16.5">renewal_date</tspan><tspan x="68.2">timestamp</tspan><tspan x="102.2">NULL</tspan><tspan class="k" x="134.2">Comment</tspan></text>
<text class="r" y="117.8"><tspan x="16.5">end_date</tspan><tspan x="68.2">timestamp</tspan><tspan x="102.2">NULL</tspan><tspan class="k" x="134.2">Comment</tspan></text>
<text class="r" y="126.8"><tspan x="16.5">status</tspan><tspan x="68.2">varchar(15)</tspan><tspan x="102.2">NOT NULL</tspan><tspan x="134.2">quote, autopay, non-pay, renewal, change, cancelled</tspan></text>
<text class="r" y="135.8"><tspan x="16.5">premium_amt</tspan><tspan x="68.2">real</tspan><tspan x="102.2">NULL</tspan><tspan class="k" x="134.2">Comment</tspan></text>
<text class="r" y="144.8"><tspan x="16.5">cancelled_date</tspan><tspan x="68.2">timestamp</tspan><tspan x="102.2">NULL</tspan><tspan x="134.2">default is null</tspan></text>
<text class="r" y="153.8"><tspan x="16.5">updated_date</tspan><tspan x="68.2">timestamp</tspan><tspan x="102.2">NOT NULL</tspan><tspan class="k" x="134.2">Comment</tspan></text>
<text class="ti" x="130.5" y="17">policy</text>
</g>

<g id="policy_payments" class="dark" transform="translate(478 677.3)">
<rect class="bd" x=".5" y=".5" width="268.8" height="84.7"/><rect class="hd" x="1" y="1" width="267.8" height="11.3"/>
<rect class="pk" x="1.5" y="12.3" width="266.8" height="18"/><rect x="1.5" y="12.3" width="266.8" height="72" fill="url(#gd)"/>
<path class="v" d="M13.7 12.3V84.5M61.3 12.3V84.5M93 12.3V84.5M125.3 12.3V84.5"/>
<use class="kp" href="#key" x="4.5" y="16.8"/><use class="kf" href="#key" x="4.5" y="25.8"/>
<text class="r" y="18.8"><tspan x="16.2">id</tspan><tspan x="63.8">serial</tspan><tspan x="95.5">NOT NULL</tspan><tspan class="k" x="127.8">Comment</tspan></text>
<text class="r" y="27.8"><tspan x="16.2">policy_id</tspan><tspan x="63.8">serial</tspan><tspan x="95.5">NOT NULL</tspan><tspan class="k" x="127.8">Comment</tspan></text>
<text class="r" y="36.8"><tspan x="16.2">payment_number</tspan><tspan x="63.8">int</tspan><tspan x="95.5">NOT NULL</tspan><tspan x="127.8">(1 for 1st payment, 2 for second payment, etc)</tspan></text>
<text class="r" y="45.8"><tspan x="16.2">payment_date</tspan><tspan x="63.8">timestamp</tspan><tspan x="95.5">NOT NULL</tspan><tspan x="127.8">policy.created_date + interval 'payment_number months'</tspan></text>
<text class="r" y="54.8"><tspan x="16.2">status</tspan><tspan x="63.8">char(1)</tspan><tspan x="95.5">NOT NULL</tspan><tspan x="127.8">P = Paid, U = Unpaid, C = Cancelled, default is P</tspan></text>
<text class="r" y="63.8"><tspan x="16.2">created_date</tspan><tspan x="63.8">timestamp</tspan><tspan x="95.5">NOT NULL</tspan><tspan class="k" x="127.8">Comment</tspan></text>
<text class="r" y="72.8"><tspan x="16.2">updated_date</tspan><tspan x="63.8">timestamp</tspan><tspan x="95.5">NOT NULL</tspan><tspan class="k" x="127.8">Comment</tspan></text>
<text class="ti" x="134.9" y="17">policy_payments</text>
</g>

<g id="audit__header" class="re" transform="translate(167.3 524.3)">
<rect class="bd" x=".5" y=".5" width="241.7" height="75.9"/><rect class="hd" x="1" y="1" width="240.7" height="11.3"/>
<rect x="1.5" y="12.3" width="239.7" height="63" fill="url(#gr)"/>
<path class="v" d="M13.7 12.3V75.5M51.7 12.3V75.5M88 12.3V75.5M120.4 12.3V75.5"/>
<use class="kp" href="#key" x="4.5" y="16.8"/>
<text class="r" y="18.8"><tspan x="16.2">id</tspan><tspan x="54.2">serial</tspan><tspan x="90.5">NOT NULL</tspan><tspan class="k" x="122.9">Comment</tspan></text>
<text class="r" y="27.8"><tspan x="16.2">entity</tspan><tspan x="54.2">varchar(50)</tspan><tspan x="90.5">NOT NULL</tspan><tspan class="k" x="122.9">Comment</tspan></text>
<text class="r" y="36.8"><tspan x="16.2">record_id</tspan><tspan x="54.2">int</tspan><tspan x="90.5">NOT NULL</tspan><tspan class="k" x="122.9">Comment</tspan></text>
<text class="r" y="45.8"><tspan x="16.2">action</tspan><tspan x="54.2">varchar(10)</tspan><tspan x="90.5">NOT NULL</tspan><tspan x="122.9">create, update, destroy</tspan></text>
<text class="r" y="54.8"><tspan x="16.2">user_id</tspan><tspan x="54.2">int</tspan><tspan x="90.5">NOT NULL</tspan><tspan class="k" x="122.9">Comment</tspan></text>
<text class="r" y="63.8"><tspan x="16.2">user_email</tspan><tspan x="54.2">varchar(255)</tspan><tspan x="90.5">NOT NULL</tspan><tspan x="122.9">employee.first_name + ' ' + employee.last_name</tspan></text>
<text class="r" y="72.8"><tspan x="16.2">created_date</tspan><tspan x="54.2">datetime</tspan><tspan x="90.5">NOT NULL</tspan><tspan class="k" x="122.9">Comment</tspan></text>
<text class="ti" x="121.3" y="17">audit__header</text>
</g>

<g id="audit_detail" class="re" transform="translate(181.3 641.3)">
<rect class="bd" x=".5" y=".5" width="147" height="66.9"/><rect class="hd" x="1" y="1" width="146" height="11.3"/>
<rect x="1.5" y="12.3" width="145" height="54" fill="url(#gr)"/>
<path class="v" d="M13.7 12.3V66.5M46.4 12.3V66.5M82.7 12.3V66.5M114.7 12.3V66.5"/>
<use class="kp" href="#key" x="4.5" y="16.8"/><use class="kf" href="#key" x="4.5" y="25.8"/>
<text class="r" y="18.8"><tspan x="16.2">id</tspan><tspan x="48.9">serial</tspan><tspan x="85.2">NOT NULL</tspan><tspan class="k" x="117.2">Comment</tspan></text>
<text class="r" y="27.8"><tspan x="16.2">header_id</tspan><tspan x="48.9">int</tspan><tspan x="85.2">NOT NULL</tspan><tspan class="k" x="117.2">Comment</tspan></text>
<text class="r" y="36.8"><tspan x="16.2">field</tspan><tspan x="48.9">varchar(50)</tspan><tspan x="85.2">NOT NULL</tspan><tspan class="k" x="117.2">Comment</tspan></text>
<text class="r" y="45.8"><tspan x="16.2">old_value</tspan><tspan x="48.9">varchar(255)</tspan><tspan x="85.2">NULL</tspan><tspan class="k" x="117.2">Comment</tspan></text>
<text class="r" y="54.8"><tspan x="16.2">new_value</tspan><tspan x="48.9">varchar(255)</tspan><tspan x="85.2">NULL</tspan><tspan class="k" x="117.2">Comment</tspan></text>
<text class="ti" x="74" y="17">audit_detail</text>
</g>

<g id="reps" class="dark" transform="translate(1238 389)">
<rect x="0" y="-9" width="9" height="9" fill="#ffcc00"/><rect x="10" y="-9" width="9" height="9" fill="#12aef0"/>
<path d="M4.5-7V-2M2-4.5H7M14.5-7V-2M12-4.5H17" stroke="#333" stroke-width="1" fill="none"/>
<rect x="113" y="-9" width="36" height="9" fill="#666"/>
<rect class="ico" x="115" y="-7.5" width="5" height="6"/><rect class="ico" x="123.5" y="-7.5" width="6" height="6"/><circle class="ico" cx="135" cy="-4.5" r="3.4"/><rect class="ico" x="143" y="-7.5" width="4.5" height="6.5"/>
<path d="M117-7.5V-3M125-5H128M135-6V-3" stroke="#444" fill="none"/>
<rect class="bd" x=".5" y=".5" width="148" height="95.2" style="stroke:#222"/><rect class="hd" x="1" y="1" width="147" height="11.3"/>
<rect class="pk" x="1.5" y="12.3" width="146" height="18"/><rect x="1.5" y="12.3" width="146" height="81" fill="url(#gd)"/>
<path class="v" d="M14.3 12.3V94M48.7 12.3V94M86 12.3V94M118 12.3V94"/>
<use class="kp" href="#key" x="5" y="16.8"/><use class="kf" href="#key" x="5" y="25.8"/>
<text class="r" y="18.8"><tspan x="16.8">id</tspan><tspan x="51.2">serial</tspan><tspan x="88.5">NOT NULL</tspan><tspan class="k" x="120.5">Comment</tspan></text>
<text class="r" y="27.8"><tspan x="16.8">company_id</tspan><tspan x="51.2">int</tspan><tspan x="88.5">NOT NULL</tspan><tspan class="k" x="120.5">Comment</tspan></text>
<text class="r" y="36.8"><tspan x="16.8">first_name</tspan><tspan x="51.2">varchar(50)</tspan><tspan x="88.5">NOT NULL</tspan><tspan class="k" x="120.5">Comment</tspan></text>
<text class="r" y="45.8"><tspan x="16.8">last_name</tspan><tspan x="51.2">varchar(50)</tspan><tspan x="88.5">NOT NULL</tspan><tspan class="k" x="120.5">Comment</tspan></text>
<text class="r" y="54.8"><tspan x="16.8">title</tspan><tspan x="51.2">varchar(10)</tspan><tspan x="88.5">NULL</tspan><tspan class="k" x="120.5">Comment</tspan></text>
<text class="r" y="63.8"><tspan x="16.8">phone</tspan><tspan x="51.2">int</tspan><tspan x="88.5">NULL</tspan><tspan class="k" x="120.5">Comment</tspan></text>
<text class="r" y="72.8"><tspan x="16.8">fax</tspan><tspan x="51.2">int</tspan><tspan x="88.5">NULL</tspan><tspan class="k" x="120.5">Comment</tspan></text>
<text class="r" y="81.8"><tspan x="16.8">email</tspan><tspan x="51.2">varchar(50)</tspan><tspan x="88.5">NULL</tspan><tspan class="k" x="120.5">Comment</tspan></text>
<text class="r" y="90.8"><tspan x="16.8">notes</tspan><tspan x="51.2">varchar(255)</tspan><tspan x="88.5">NULL</tspan><tspan class="k" x="120.5">Comment</tspan></text>
<text class="ti" x="74.5" y="17" style="fill:#e6e6e6">reps</text>
</g>

<g id="company" class="dark" transform="translate(1207 525)">
<rect class="bd" x=".5" y=".5" width="187.5" height="102.5"/><rect class="hd" x="1" y="1" width="186.5" height="11.3"/>
<rect class="pk" x="1.5" y="12.3" width="185.5" height="9"/><rect x="1.5" y="12.3" width="185.5" height="90" fill="url(#gd)"/>
<rect x="1.5" y="12.3" width="185.5" height="90" fill="url(#cb)"/>
<path class="v" d="M13 12.3V102M40 12.3V102M77 12.3V102M111 12.3V102"/>
<use class="kp" href="#key" x="4.5" y="16.8"/>
<text class="ti" x="94.3" y="17">company</text>
</g>

<g id="minimap">
<rect x="1425.3" y="742" width="155.7" height="106.3" fill="#4a4a4a" stroke="#000" stroke-width="4"/>
<rect class="mini" x="1469.3" y="752" width="8.7" height="3.7"/><rect class="mini" x="1480.7" y="750.7" width="21.7" height="16"/><rect class="mini" x="1506.7" y="754" width="8.3" height="4"/><rect class="mini" x="1510" y="761.7" width="11.3" height="5"/><rect class="mini" x="1456.3" y="759" width="21.3" height="5.7"/><rect class="mini" x="1467.3" y="765.3" width="11" height="5.7"/><rect x="1484" y="769.3" width="10" height="4.3" fill="#a9761f"/><rect x="1495" y="768" width="13.7" height="6.7" fill="#a9761f"/><rect class="mini" x="1511" y="769" width="8.7" height="4.7"/><rect class="mini" x="1525" y="770.3" width="8.3" height="4.7"/><rect class="mini" x="1523.3" y="778" width="10.7" height="5.7"/><rect x="1481.3" y="775.7" width="14" height="8.3" fill="#1c6fb3"/><rect class="mini" x="1482.3" y="786.7" width="15" height="4.7"/><rect x="1465" y="778.3" width="13.3" height="3.7" fill="#a3271a"/><rect x="1465.7" y="784.7" width="8" height="3.7" fill="#a3271a"/>
<rect x="1441.7" y="746" width="105" height="52.7" fill="none" stroke="#a8222a" stroke-width="1.2"/>
</g>

<path id="cursor" d="M1330 227V241L1333.2 238L1335.6 243.5L1337.8 242.5L1335.4 237.2H1339.6Z" fill="#000" stroke="#fff" stroke-width=".8"/>
</svg>
